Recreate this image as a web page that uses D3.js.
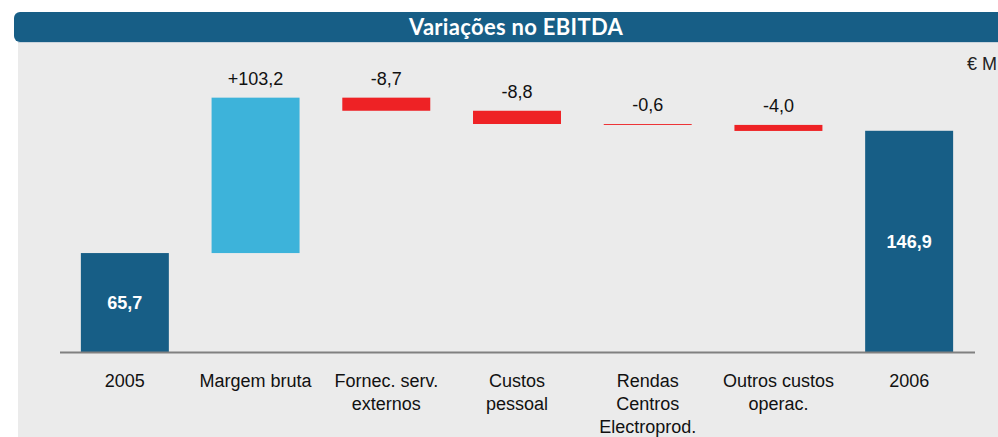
<!DOCTYPE html>
<html>
<head>
<meta charset="utf-8">
<script src="https://cdn.jsdelivr.net/npm/d3@7"></script>
<style>
  body { margin: 0; background: #fff; }
  svg { display: block; }
</style>
</head>
<body>
<div id="chart"></div>
<script>
const WIDTH = 998
const HEIGHT = 437

// dados (M€)
const categorias = ["2005", "Margem bruta", "Fornec. serv.|externos", "Custos|pessoal",
                    "Rendas|Centros|Electroprod.", "Outros custos|operac.", "2006"]
const valores = [65.7, 103.2, -8.7, -8.8, -0.6, -4.0, 146.9]
const tipos = ["total", "delta", "delta", "delta", "delta", "delta", "total"]
const rotulos = ["65,7", "+103,2", "-8,7", "-8,8", "-0,6", "-4,0", "146,9"]

// calcular inicio/fim de cada barra (cascata)
let acumulado = 0
const barras = categorias.map((c, i) => {
  let inicio, fim
  if (tipos[i] === "total") {
    inicio = 0
    fim = valores[i]
    acumulado = valores[i]
  } else {
    inicio = acumulado
    fim = acumulado + valores[i]
    acumulado = fim
  }
  return { cat: c, valor: valores[i], tipo: tipos[i], rotulo: rotulos[i], inicio, fim }
})

const svg = d3.select("#chart")
  .append("svg")
  .attr("width", WIDTH)
  .attr("height", HEIGHT)

// fundo cinzento
svg.append("rect")
  .attr("x", 18).attr("y", 42)
  .attr("width", WIDTH - 18).attr("height", HEIGHT - 42)
  .attr("fill", "#ebebeb")

// barra do titulo
svg.append("rect")
  .attr("x", 14).attr("y", 12)
  .attr("width", WIDTH + 20).attr("height", 30)
  .attr("rx", 6)
  .attr("fill", "#175e86")
svg.append("line")
  .attr("x1", 18).attr("x2", WIDTH)
  .attr("y1", 42.5).attr("y2", 42.5)
  .attr("stroke", "#c9d3dc")

svg.append("text")
  .attr("x", 516).attr("y", 35)
  .attr("text-anchor", "middle")
  .attr("fill", "#fff")
  .attr("font-family", "Lato, 'DejaVu Sans', sans-serif")
  .attr("font-weight", "bold")
  .attr("font-size", 22)
  .attr("letter-spacing", 0.3)
  .text("Variações no EBITDA")

svg.append("text")
  .attr("x", 997).attr("y", 70)
  .attr("text-anchor", "end")
  .attr("font-family", "'Liberation Sans', Arial, sans-serif")
  .attr("font-size", 18)
  .attr("fill", "#222")
  .text("€ M")

const x = d3.scaleBand()
  .domain(categorias)
  .range([59.5, 974.5])
  .paddingInner(0.327)
  .paddingOuter(0.1635)

const y = d3.scaleLinear()
  .domain([0, 170])
  .range([352, 96])

const cor = d => d.tipo === "total" ? "#175e86" : (d.valor > 0 ? "#3db3da" : "#ee2225")

svg.selectAll(".barra")
  .data(barras)
  .enter()
  .append("rect")
  .attr("class", "barra")
  .attr("x", d => x(d.cat))
  .attr("width", x.bandwidth())
  .attr("y", d => y(Math.max(d.inicio, d.fim)))
  .attr("height", d => Math.abs(y(d.inicio) - y(d.fim)))
  .attr("fill", cor)

// rotulos de valor
svg.selectAll(".rotulo")
  .data(barras)
  .enter()
  .append("text")
  .attr("class", "rotulo")
  .attr("x", d => x(d.cat) + x.bandwidth() / 2)
  .attr("y", d => d.tipo === "total"
      ? (y(d.inicio) + y(d.fim)) / 2
      : y(Math.max(d.inicio, d.fim)) - 13)
  .attr("dy", d => d.tipo === "total" ? "0.36em" : 0)
  .attr("text-anchor", "middle")
  .attr("font-family", "'Liberation Sans', Arial, sans-serif")
  .attr("font-size", 18)
  .attr("font-weight", d => d.tipo === "total" ? "bold" : "normal")
  .attr("fill", d => d.tipo === "total" ? "#fff" : "#111")
  .text(d => d.rotulo)

// eixo
const eixo = svg.append("g")
  .attr("transform", "translate(0,352)")
  .call(d3.axisBottom(x).tickSize(0).tickSizeOuter(0).tickPadding(22))

eixo.select(".domain")
  .attr("stroke", "#808080")
  .attr("stroke-width", 2)

eixo.selectAll(".tick text")
  .attr("font-family", "'Liberation Sans', Arial, sans-serif")
  .attr("font-size", 18)
  .attr("fill", "#111")
  .each(function (d) {
    const t = d3.select(this)
    const linhas = d.split("|")
    t.text(null)
    linhas.forEach((l, i) => {
      t.append("tspan")
        .attr("x", 0)
        .attr("dy", i === 0 ? "0.71em" : 23)
        .text(l)
    })
  })
</script>
</body>
</html>
